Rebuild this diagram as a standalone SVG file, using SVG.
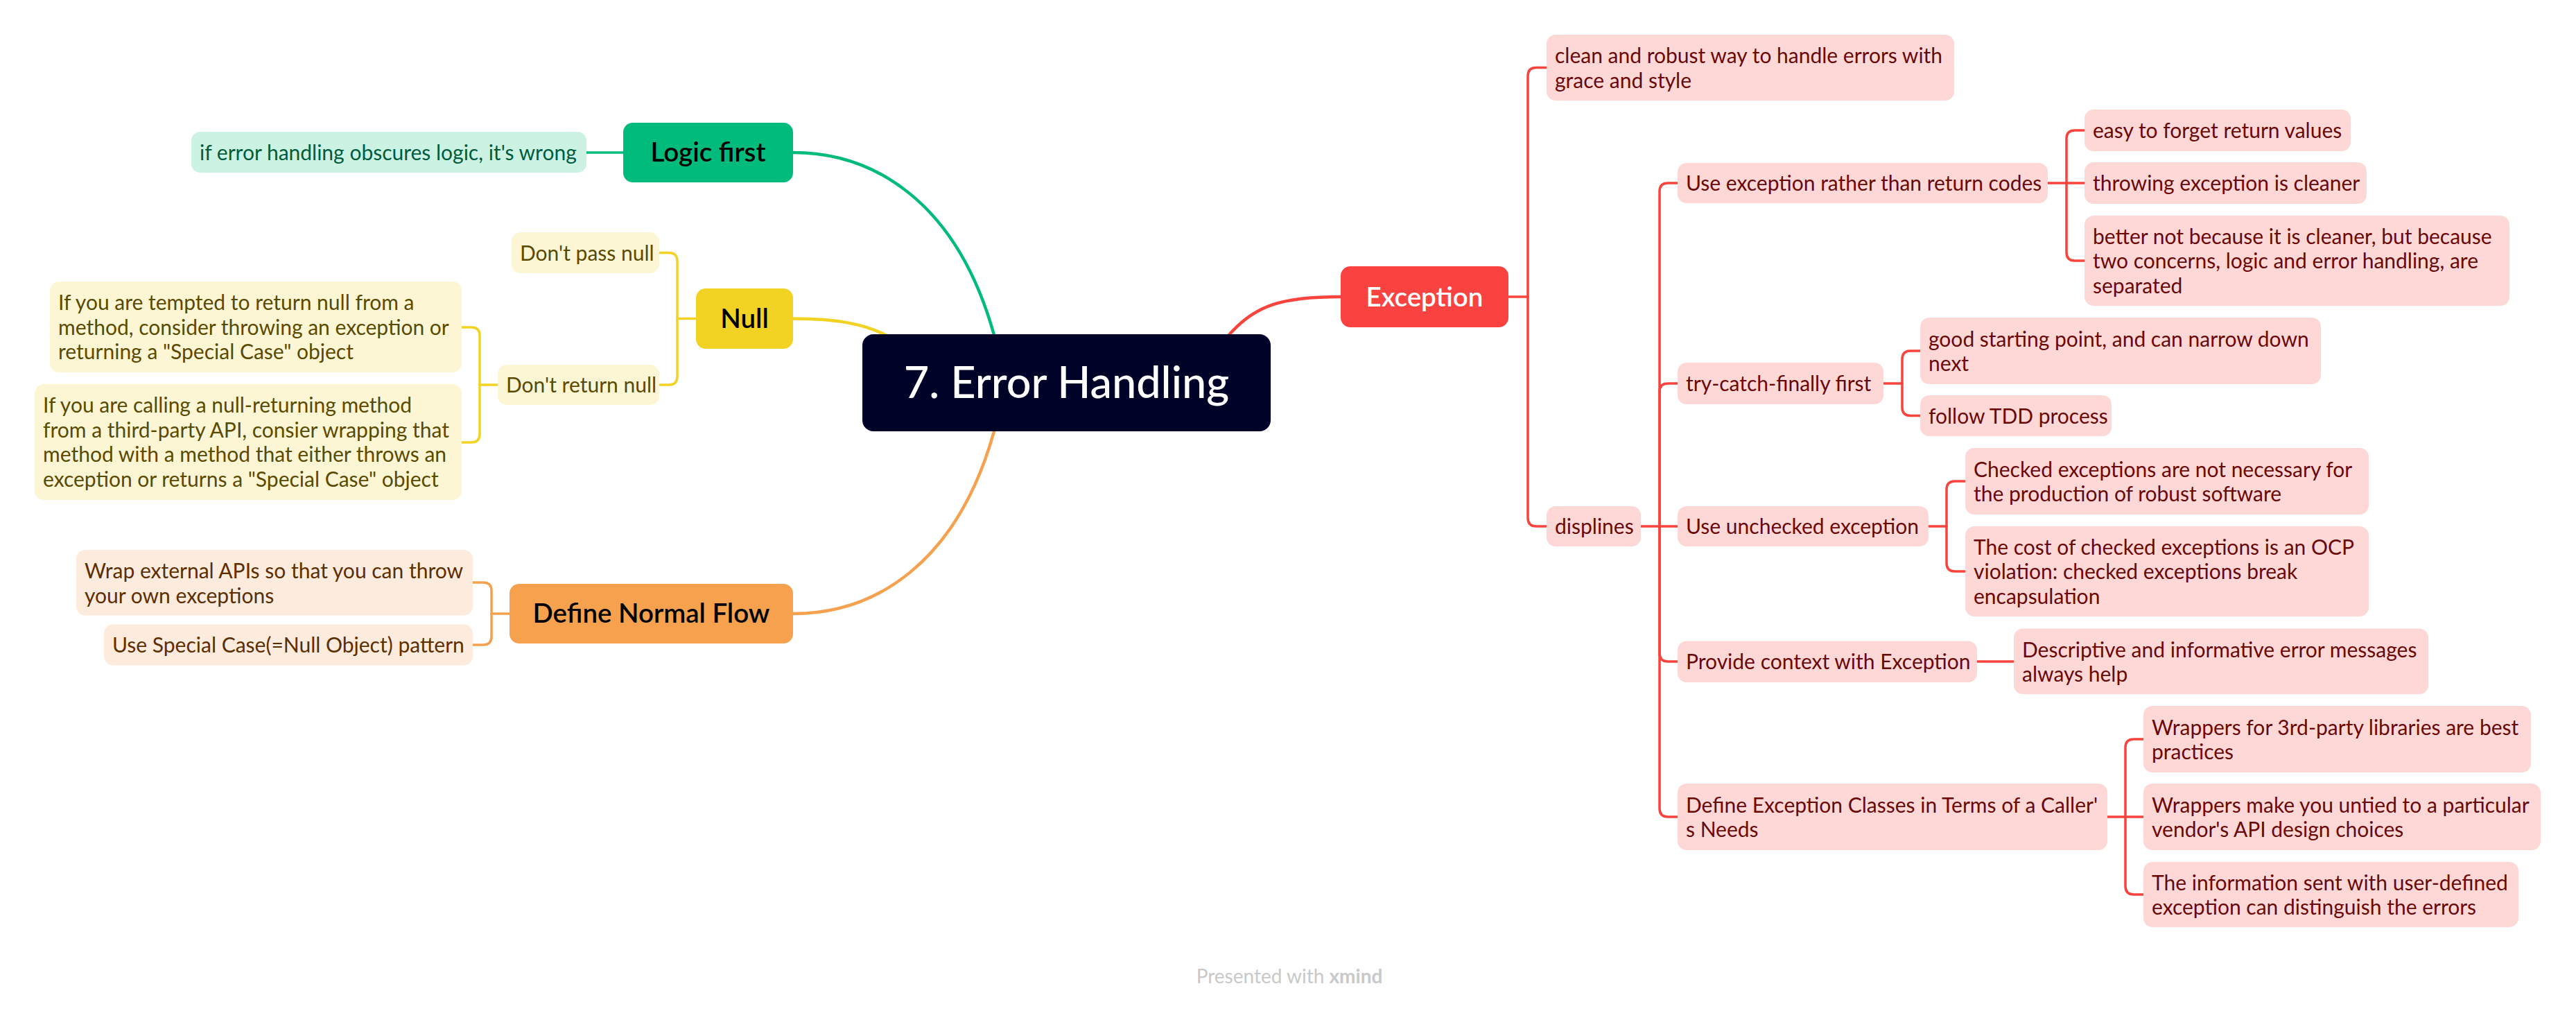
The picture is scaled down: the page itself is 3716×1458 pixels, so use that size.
<svg xmlns="http://www.w3.org/2000/svg" width="3716" height="1458" viewBox="0 0 3716 1458">
<style>
.bg{fill:#ffffff}
.c{fill:none;stroke-linecap:round;stroke-linejoin:round}
.cr{stroke:#F9433D;stroke-width:3.5}
.cg{stroke:#00BB7C;stroke-width:3.5}
.cy{stroke:#F2D324;stroke-width:3.5}
.co{stroke:#F6A14E;stroke-width:3.5}
.main{stroke-width:4.5}
.t{font-family:Lato,"Open Sans","Liberation Sans",sans-serif;font-size:30px}
.h{font-family:Lato,"Open Sans","Liberation Sans",sans-serif;font-size:38.5px;font-weight:600;text-anchor:middle}
.sr rect{fill:#FDD8D7}.sr text{fill:#6A0808}
.sg rect{fill:#CCF2E4}.sg text{fill:#005C3D}
.sy rect{fill:#FDF6D4}.sy text{fill:#5A4A00}
.so rect{fill:#FDEBDD}.so text{fill:#5C2E00}
</style>
<rect class="bg" x="0" y="0" width="3716" height="1458"/>
<g id="connectors">
<path class="c cr main" d="M1773,483 C1810,440 1850,428 1934,428"/>
<path class="c cg main" d="M1144,220 C1260,220 1380,290 1434,483"/>
<path class="c cy main" d="M1144,459.5 C1205,459.5 1252,467 1286,488"/>
<path class="c co main" d="M1144,885 C1260,885 1380,815 1434,622"/>
<path class="c cr" d="M2176,428 H2204"/>
<path class="c cr" d="M2204,428 V109.5 Q2204,97.5 2216,97.5 H2231"/>
<path class="c cr" d="M2204,428 V747 Q2204,759 2216,759 H2231"/>
<path class="c cr" d="M2367,759 H2420"/>
<path class="c cr" d="M2394,759 V276 Q2394,264 2406,264 H2420"/>
<path class="c cr" d="M2394,759 V565 Q2394,553 2406,553 H2420"/>
<path class="c cr" d="M2394,759 V942 Q2394,954 2406,954 H2420"/>
<path class="c cr" d="M2394,759 V1166 Q2394,1178 2406,1178 H2420"/>
<path class="c cr" d="M2954,264 H3007"/>
<path class="c cr" d="M2981,264 V200 Q2981,188 2993,188 H3007"/>
<path class="c cr" d="M2981,264 V364 Q2981,376 2993,376 H3007"/>
<path class="c cr" d="M2717,553 H2744"/>
<path class="c cr" d="M2744,553 V518 Q2744,506 2756,506 H2770"/>
<path class="c cr" d="M2744,553 V587.5 Q2744,599.5 2756,599.5 H2770"/>
<path class="c cr" d="M2782,759 H2808"/>
<path class="c cr" d="M2808,759 V706 Q2808,694 2820,694 H2835"/>
<path class="c cr" d="M2808,759 V812 Q2808,824 2820,824 H2835"/>
<path class="c cr" d="M2852,954 H2905"/>
<path class="c cr" d="M3040,1178 H3092"/>
<path class="c cr" d="M3066,1178 V1078 Q3066,1066 3078,1066 H3092"/>
<path class="c cr" d="M3066,1178 V1278 Q3066,1290 3078,1290 H3092"/>
<path class="c cg" d="M846,220 H899"/>
<path class="c cy" d="M1004,459.5 H977"/>
<path class="c cy" d="M977,459.5 V376.5 Q977,364.5 965,364.5 H951"/>
<path class="c cy" d="M977,459.5 V543 Q977,555 965,555 H951"/>
<path class="c cy" d="M718,555 H692"/>
<path class="c cy" d="M692,555 V484 Q692,472 680,472 H666"/>
<path class="c cy" d="M692,555 V626 Q692,638 680,638 H666"/>
<path class="c co" d="M735,885 H709"/>
<path class="c co" d="M709,885 V852 Q709,840 697,840 H682"/>
<path class="c co" d="M709,885 V918 Q709,930 697,930 H682"/>
</g>
<g id="central">
<rect x="1244" y="482" width="589" height="140" rx="16" fill="#010228"/>
<text x="1538.5" y="574" font-family="Lato,'Open Sans','Liberation Sans',sans-serif" font-size="63" font-weight="500" fill="#ffffff" text-anchor="middle">7. Error Handling</text>
</g>
<g id="exception">
<rect x="1934" y="384" width="242" height="88" rx="14" fill="#FA4340"/>
<text class="h" x="2055" y="442" fill="#ffffff">Exception</text>
</g>
<g id="logic-first">
<rect x="899" y="177" width="245" height="86" rx="14" fill="#00BB7C"/>
<text class="h" x="1021.5" y="233" fill="#000000">Logic first</text>
</g>
<g id="null">
<rect x="1004" y="416" width="140" height="87" rx="14" fill="#F2D324"/>
<text class="h" x="1074" y="473" fill="#000000">Null</text>
</g>
<g id="define-normal-flow">
<rect x="735" y="842" width="409" height="86" rx="14" fill="#F6A14E"/>
<text class="h" x="939.5" y="898" fill="#000000">Define Normal Flow</text>
</g>
<g id="clean" class="sr">
<rect x="2231" y="50" width="588" height="95" rx="13"/>
<text class="t"><tspan x="2243" y="91">clean and robust way to handle errors with</tspan><tspan x="2243" y="126.5">grace and style</tspan></text>
</g>
<g id="displines" class="sr">
<rect x="2231" y="730" width="136" height="58" rx="13"/>
<text class="t" x="2243" y="770">displines</text>
</g>
<g id="use-exception" class="sr">
<rect x="2420" y="235" width="534" height="58" rx="13"/>
<text class="t" x="2432" y="275">Use exception rather than return codes</text>
</g>
<g id="try-catch" class="sr">
<rect x="2420" y="523" width="297" height="60" rx="13"/>
<text class="t" x="2432" y="564">try-catch-finally first</text>
</g>
<g id="use-unchecked" class="sr">
<rect x="2420" y="730" width="362" height="58" rx="13"/>
<text class="t" x="2432" y="770">Use unchecked exception</text>
</g>
<g id="provide-context" class="sr">
<rect x="2420" y="924.5" width="432" height="59.5" rx="13"/>
<text class="t" x="2432" y="965">Provide context with Exception</text>
</g>
<g id="define-exception-classes" class="sr">
<rect x="2420" y="1130" width="620" height="96" rx="13"/>
<text class="t"><tspan x="2432" y="1171.5">Define Exception Classes in Terms of a Caller'</tspan><tspan x="2432" y="1207">s Needs</tspan></text>
</g>
<g id="easy-to-forget" class="sr">
<rect x="3007" y="158" width="384" height="60" rx="13"/>
<text class="t" x="3019" y="199">easy to forget return values</text>
</g>
<g id="throwing-cleaner" class="sr">
<rect x="3007" y="234" width="407" height="60" rx="13"/>
<text class="t" x="3019" y="275">throwing exception is cleaner</text>
</g>
<g id="better-not" class="sr">
<rect x="3007" y="311" width="613" height="130" rx="13"/>
<text class="t"><tspan x="3019" y="351.5">better not because it is cleaner, but because</tspan><tspan x="3019" y="387">two concerns, logic and error handling, are</tspan><tspan x="3019" y="422.5">separated</tspan></text>
</g>
<g id="good-starting" class="sr">
<rect x="2770" y="458" width="578" height="96" rx="13"/>
<text class="t"><tspan x="2782" y="499.5">good starting point, and can narrow down</tspan><tspan x="2782" y="535">next</tspan></text>
</g>
<g id="follow-tdd" class="sr">
<rect x="2770" y="570" width="276" height="59" rx="13"/>
<text class="t" x="2782" y="610.5">follow TDD process</text>
</g>
<g id="checked-not-necessary" class="sr">
<rect x="2835" y="646" width="582" height="96" rx="13"/>
<text class="t"><tspan x="2847" y="687.5">Checked exceptions are not necessary for</tspan><tspan x="2847" y="723">the production of robust software</tspan></text>
</g>
<g id="cost-of-checked" class="sr">
<rect x="2835" y="759" width="582" height="130" rx="13"/>
<text class="t"><tspan x="2847" y="799.5">The cost of checked exceptions is an OCP</tspan><tspan x="2847" y="835">violation: checked exceptions break</tspan><tspan x="2847" y="870.5">encapsulation</tspan></text>
</g>
<g id="descriptive" class="sr">
<rect x="2905" y="906.5" width="598" height="94.5" rx="13"/>
<text class="t"><tspan x="2917" y="947.5">Descriptive and informative error messages</tspan><tspan x="2917" y="983">always help</tspan></text>
</g>
<g id="wrappers-3rd-party" class="sr">
<rect x="3092" y="1018" width="559" height="96" rx="13"/>
<text class="t"><tspan x="3104" y="1059.5">Wrappers for 3rd-party libraries are best</tspan><tspan x="3104" y="1095">practices</tspan></text>
</g>
<g id="wrappers-untied" class="sr">
<rect x="3092" y="1130" width="573" height="96" rx="13"/>
<text class="t"><tspan x="3104" y="1171.5">Wrappers make you untied to a particular</tspan><tspan x="3104" y="1207">vendor's API design choices</tspan></text>
</g>
<g id="information-sent" class="sr">
<rect x="3092" y="1243" width="541" height="94" rx="13"/>
<text class="t"><tspan x="3104" y="1283.5">The information sent with user-defined</tspan><tspan x="3104" y="1319">exception can distinguish the errors</tspan></text>
</g>
<g id="obscures-logic" class="sg">
<rect x="276" y="190" width="570" height="59" rx="13"/>
<text class="t" x="288" y="230.5">if error handling obscures logic, it's wrong</text>
</g>
<g id="dont-pass-null" class="sy">
<rect x="738" y="335" width="213" height="59" rx="13"/>
<text class="t" x="750" y="375.5">Don't pass null</text>
</g>
<g id="dont-return-null" class="sy">
<rect x="718" y="526" width="233" height="58" rx="13"/>
<text class="t" x="730" y="566">Don't return null</text>
</g>
<g id="tempted-return-null" class="sy">
<rect x="72" y="406" width="594" height="131" rx="13"/>
<text class="t"><tspan x="84" y="447">If you are tempted to return null from a</tspan><tspan x="84" y="482.5">method, consider throwing an exception or</tspan><tspan x="84" y="518">returning a "Special Case" object</tspan></text>
</g>
<g id="calling-null-returning" class="sy">
<rect x="50" y="554" width="616" height="167" rx="13"/>
<text class="t"><tspan x="62" y="595">If you are calling a null-returning method</tspan><tspan x="62" y="630.5">from a third-party API, consier wrapping that</tspan><tspan x="62" y="666">method with a method that either throws an</tspan><tspan x="62" y="701.5">exception or returns a "Special Case" object</tspan></text>
</g>
<g id="wrap-external" class="so">
<rect x="110" y="793" width="572" height="94.5" rx="13"/>
<text class="t"><tspan x="122" y="834">Wrap external APIs so that you can throw</tspan><tspan x="122" y="869.5">your own exceptions</tspan></text>
</g>
<g id="special-case" class="so">
<rect x="150" y="900.5" width="532" height="59" rx="13"/>
<text class="t" x="162" y="941">Use Special Case(=Null Object) pattern</text>
</g>
<text x="1860" y="1418" font-family="Lato,'Open Sans','Liberation Sans',sans-serif" font-size="28" fill="#C9C9C9" text-anchor="middle">Presented with <tspan font-weight="700">xmind</tspan></text>
</svg>
